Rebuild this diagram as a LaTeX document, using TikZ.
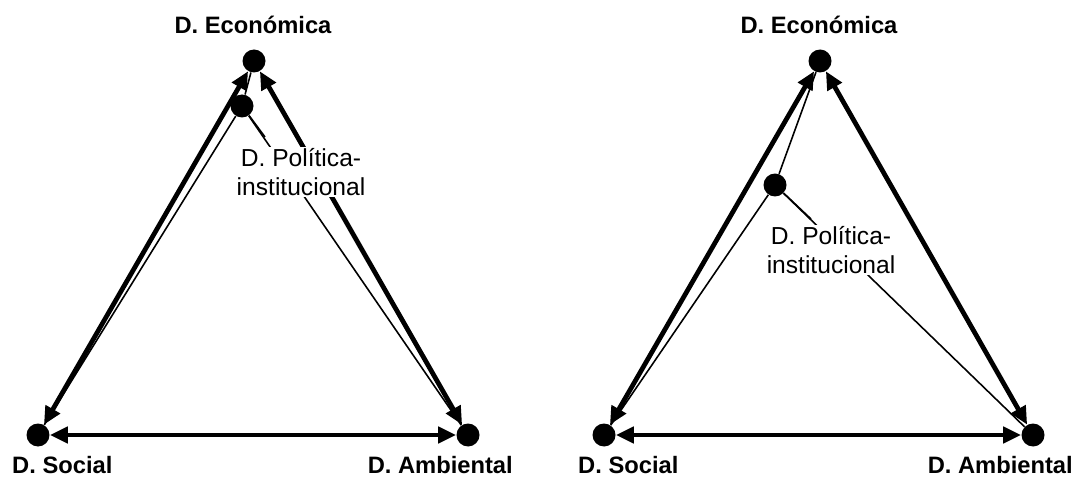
\documentclass[tikz,border=0pt]{standalone}
\usepackage{fontspec}
\setmainfont{Liberation Sans}
\usepackage{tikz}
\usetikzlibrary{arrows.meta}
\tikzset{
  dimdot/.style={
    circle,
    fill=black,
    inner sep=0pt,
    minimum size=0.46cm
  },
  dimname/.style={
    font=\bfseries\fontsize{13.5}{16}\selectfont,
    anchor=base,
    inner sep=0.5pt
  },
  polname/.style={
    fill=white,
    align=center,
    font=\fontsize{14}{16.5}\selectfont,
    inner sep=1pt
  },
  linkarrow/.style={
    {Triangle[length=3.6mm,width=3.2mm]}-{Triangle[length=3.6mm,width=3.2mm]},
    line width=2.7pt
  },
  thinlink/.style={
    line width=0.9pt
  }
}

\begin{document}
\begin{tikzpicture}[x=0.02cm,y=-0.02cm]
    \useasboundingbox (0,0) rectangle (1077,479);

    % left triangle
    \node[dimdot] (econA) at (254,61) {};
    \node[dimdot] (polA) at (242,106) {};
    \node[dimdot] (socA) at (38,435) {};
    \node[dimdot] (ambA) at (468,435) {};
    \node[dimname] (econAlab) at (253,34) {D. Económica};
    \node[dimname, anchor=base west] (socAlab) at (11,473) {D. Social};
    \node[dimname, anchor=base east] (ambAlab) at (514,473) {D. Ambiental};

    \draw[thinlink] (polA) -- (econA);
    \draw[thinlink] (polA) -- (socA);
    \draw[thinlink] (polA) -- (ambA);
    \draw[linkarrow] (socA) -- (econA);
    \draw[linkarrow] (ambA) -- (econA);
    \draw[linkarrow] (socA) -- (ambA);

    \node[polname] (polAlab) at (301,172) {D. Política-\\institucional};
    \coordinate (polAtip) at (265,137);
    \draw[thinlink] (polA) -- (polAtip);

    % right triangle
    \node[dimdot] (econB) at (820,61) {};
    \node[dimdot] (polB) at (775,185) {};
    \node[dimdot] (socB) at (604,435) {};
    \node[dimdot] (ambB) at (1033,435) {};
    \node[dimname] (econBlab) at (819,34) {D. Económica};
    \node[dimname, anchor=base west] (socBlab) at (577,473) {D. Social};
    \node[dimname, anchor=base east] (ambBlab) at (1074,473) {D. Ambiental};

    \draw[thinlink] (polB) -- (econB);
    \draw[thinlink] (polB) -- (socB);
    \draw[thinlink] (polB) -- (ambB);
    \draw[linkarrow] (socB) -- (econB);
    \draw[linkarrow] (ambB) -- (econB);
    \draw[linkarrow] (socB) -- (ambB);

    \node[polname] (polBlab) at (831,250) {D. Política-\\institucional};
    \coordinate (polBtip) at (811,219);
    \draw[thinlink] (polB) -- (polBtip);
\end{tikzpicture}
\end{document}
